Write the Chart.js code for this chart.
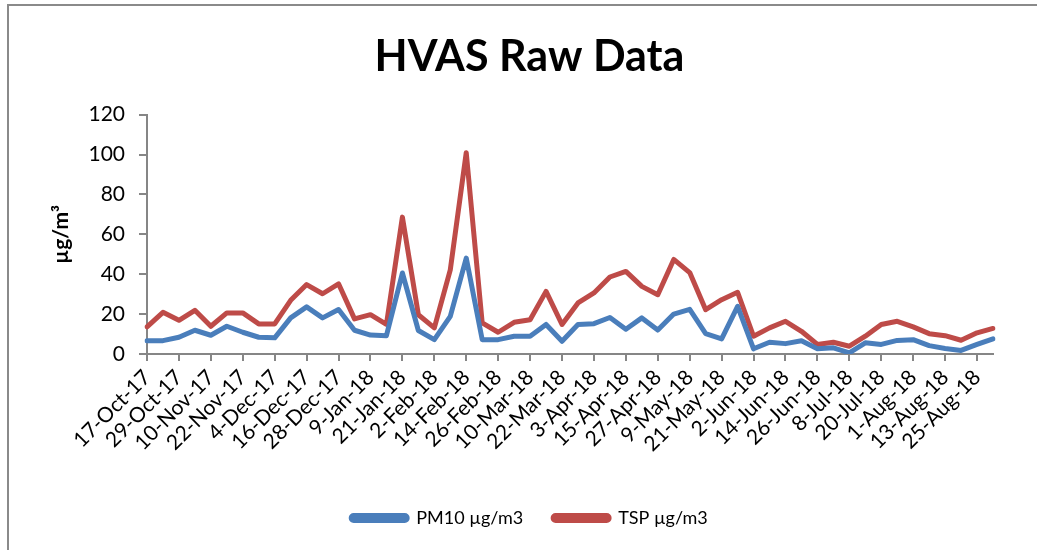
<!DOCTYPE html>
<html>
<head>
<meta charset="utf-8">
<script src="https://cdn.jsdelivr.net/npm/chart.js@4"></script>
<style>
  html, body { margin: 0; padding: 0; background: #fff; overflow: hidden; }
  #wrap { position: relative; width: 1037px; height: 550px; }
  #frame {
    position: absolute; left: 7px; top: 4px; width: 1100px; height: 600px;
    border-left: 2px solid #8a8a8a; border-top: 2px solid #8a8a8a;
  }
  canvas { position: absolute; left: 0; top: 0; }
</style>
</head>
<body>
<div id="wrap">
  <div id="frame"></div>
  <canvas id="chart" width="1037" height="550"></canvas>
</div>
<script>
// sample dates, every 6 days
const dates = [
  "17-Oct-17", "23-Oct-17", "29-Oct-17", "4-Nov-17", "10-Nov-17", "16-Nov-17",
  "22-Nov-17", "28-Nov-17", "4-Dec-17", "10-Dec-17", "16-Dec-17", "22-Dec-17",
  "28-Dec-17", "3-Jan-18", "9-Jan-18", "15-Jan-18", "21-Jan-18", "27-Jan-18",
  "2-Feb-18", "8-Feb-18", "14-Feb-18", "20-Feb-18", "26-Feb-18", "4-Mar-18",
  "10-Mar-18", "16-Mar-18", "22-Mar-18", "28-Mar-18", "3-Apr-18", "9-Apr-18",
  "15-Apr-18", "21-Apr-18", "27-Apr-18", "3-May-18", "9-May-18", "15-May-18",
  "21-May-18", "27-May-18", "2-Jun-18", "8-Jun-18", "14-Jun-18", "20-Jun-18",
  "26-Jun-18", "2-Jul-18", "8-Jul-18", "14-Jul-18", "20-Jul-18", "26-Jul-18",
  "1-Aug-18", "7-Aug-18", "13-Aug-18", "19-Aug-18", "25-Aug-18", "31-Aug-18"
];

const pm10 = [
  6.7, 6.7, 8.4, 11.9, 9.4, 13.9, 10.9, 8.4, 8.1, 18.1, 23.6, 18.1,
  22.3, 11.9, 9.5, 9.2, 40.6, 11.8, 7.2, 18.9, 48.1, 7.2, 7.2, 8.9,
  8.9, 14.8, 6.4, 14.8, 15.2, 18.3, 12.4, 18.1, 12.0, 20.0, 22.4, 10.2,
  7.6, 23.9, 2.6, 5.9, 5.2, 6.6, 2.6, 3.1, 0.6, 5.6, 4.8, 6.8,
  7.2, 4.2, 2.8, 1.8, 4.8, 7.6
];

const tsp = [
  13.6, 20.9, 16.9, 21.9, 13.9, 20.6, 20.6, 15.1, 15.1, 26.9, 34.8, 30.2,
  35.2, 17.6, 19.7, 14.8, 68.6, 19.7, 13.1, 42.2, 100.9, 15.6, 10.9, 15.9,
  17.2, 31.4, 14.8, 25.6, 30.6, 38.6, 41.4, 33.9, 29.7, 47.4, 40.8, 22.2,
  27.2, 30.9, 8.9, 13.1, 16.4, 11.4, 4.8, 5.9, 3.9, 8.9, 14.8, 16.4,
  13.6, 10.2, 9.2, 6.9, 10.6, 12.8
];

const yTicks = [0, 20, 40, 60, 80, 100, 120];

const axisGrey = "#868686";
const font = "Lato, 'Open Sans', sans-serif";

new Chart(document.getElementById("chart"), {
  type: "line",
  data: {
    labels: dates,
    datasets: [
      {
        label: "PM10 µg/m3",
        data: pm10,
        borderColor: "#4A7EBB",
        backgroundColor: "#4A7EBB",
        borderWidth: 5,
        pointRadius: 0,
        tension: 0,
        borderCapStyle: "round",
        borderJoinStyle: "round",
      },
      {
        label: "TSP µg/m3",
        data: tsp,
        borderColor: "#BE4B48",
        backgroundColor: "#BE4B48",
        borderWidth: 5,
        pointRadius: 0,
        tension: 0,
        borderCapStyle: "round",
        borderJoinStyle: "round",
      },
    ],
  },
  options: {
    responsive: false,
    animation: false,
    // left padding balances title vs legend centring; y scale width keeps the axis at x=147
    layout: { padding: { left: 66, right: 44, top: 0, bottom: 13 } },
    plugins: {
      title: {
        display: true,
        text: "HVAS Raw Data",
        color: "#000",
        font: { family: font, size: 43, weight: "bold" },
        padding: { top: 31, bottom: 32 },
      },
      legend: {
        position: "bottom",
        labels: {
          color: "#000",
          font: { family: font, size: 18 },
          boxWidth: 56,
          boxHeight: 5,
          useBorderRadius: true,
          borderRadius: 2.5,
          padding: 30,
        },
      },
      tooltip: { enabled: false },
    },
    scales: {
      x: {
        offset: false,
        border: { color: axisGrey, width: 2 },
        grid: {
          drawOnChartArea: false,
          drawTicks: true,
          tickLength: 7,
          lineWidth: 2,
          color: (ctx) => (ctx.index % 2 === 0 ? axisGrey : "rgba(0,0,0,0)"),
        },
        ticks: {
          autoSkip: false,
          maxRotation: 45,
          minRotation: 45,
          padding: 4,
          color: "#000",
          font: { family: font, size: 21 },
          callback: function (val, i) {
            return i % 2 === 0 ? this.getLabelForValue(val) : "";
          },
        },
        afterFit: (scale) => { scale.height = 125; },
      },
      y: {
        min: 0,
        max: 120,
        afterBuildTicks: (scale) => {
          scale.ticks = yTicks.map((v) => ({ value: v }));
        },
        border: { color: axisGrey, width: 2 },
        grid: {
          drawOnChartArea: false,
          drawTicks: true,
          tickLength: 8,
          lineWidth: 2,
          color: axisGrey,
        },
        ticks: {
          padding: 14,
          color: "#000",
          font: { family: font, size: 21 },
        },
        title: {
          display: true,
          text: "µg/m³",
          color: "#000",
          font: { family: font, size: 21, weight: "bold" },
          padding: { top: -17, bottom: 0 },
        },
        afterFit: (scale) => { scale.width = 81; },
      },
    },
  },
});
</script>
</body>
</html>
